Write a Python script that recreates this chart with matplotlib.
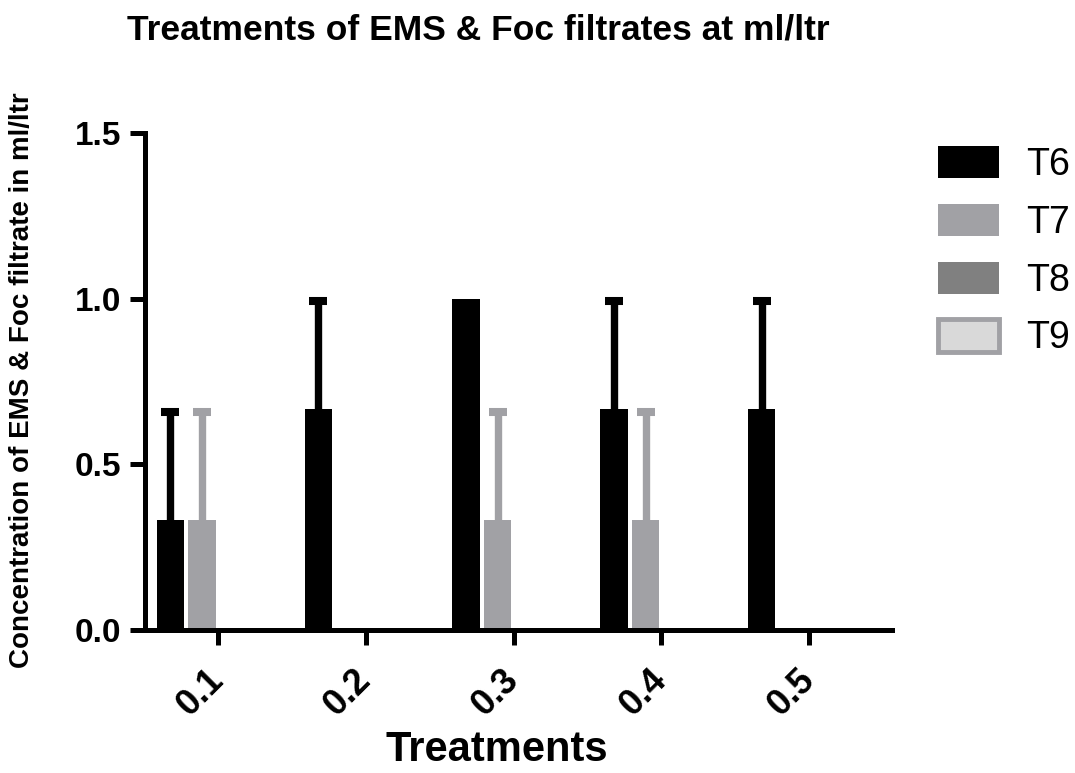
import numpy as np
import matplotlib
matplotlib.use("Agg")
import matplotlib.pyplot as plt
from matplotlib.patches import Patch

categories = ["0.1", "0.2", "0.3", "0.4", "0.5"]
series = ["T6", "T7", "T8", "T9"]
t6 = [0.333, 0.667, 1.0, 0.667, 0.667]
t6_err = [0.333, 0.333, 0.0, 0.333, 0.333]
t7 = [0.333, 0.0, 0.333, 0.333, 0.0]
t7_err = [0.333, 0.0, 0.333, 0.333, 0.0]
t8 = [0.0, 0.0, 0.0, 0.0, 0.0]
t8_err = [0.0, 0.0, 0.0, 0.0, 0.0]
t9 = [0.0, 0.0, 0.0, 0.0, 0.0]
t9_err = [0.0, 0.0, 0.0, 0.0, 0.0]

values = [t6, t7, t8, t9]
errors = [t6_err, t7_err, t8_err, t9_err]
faces = ["#000000", "#a1a1a5", "#808080", "#d9d9d9"]
edges = ["#000000", "#a1a1a5", "#808080", "#a1a1a5"]

plt.rcParams['font.family'] = ['Liberation Sans', 'DejaVu Sans']

fig = plt.figure(figsize=(10.75, 7.73), dpi=100)
ax = fig.add_axes([145/1075, 1-630/773, (892-145)/1075, (630-133)/773])

x = np.arange(len(categories))
slot = 0.2146
bw = 0.185
for i, (vals, errs) in enumerate(zip(values, errors)):
    pos = x + (i - 1.5) * slot
    ax.bar(pos, vals, width=bw, color=faces[i], edgecolor=edges[i], linewidth=0, zorder=2)
    v = np.array(vals); e = np.array(errs)
    m = e > 0
    if m.any():
        ax.vlines(pos[m], v[m], v[m] + e[m], colors=faces[i], linewidth=5.3, zorder=3)
        ax.plot(pos[m], v[m] + e[m] - 0.008, linestyle='none', marker='_', markersize=13,
                markeredgewidth=5.8, color=faces[i], zorder=3)

ax.set_xlim(-0.494, 4.56)
ax.set_ylim(0, 1.5)
ax.set_yticks([0.0, 0.5, 1.0, 1.5])
ax.set_yticklabels(["0.0", "0.5", "1.0", "1.5"])
ax.set_xticks(x)
ax.set_xticklabels(categories, rotation=45, ha='right', va='center', rotation_mode='anchor')
for s in ['top', 'right']:
    ax.spines[s].set_visible(False)
for s in ['left', 'bottom']:
    ax.spines[s].set_linewidth(3.6)
ax.tick_params(axis='both', width=3.6, length=11, labelsize=24, pad=6)
ax.tick_params(axis='x', pad=21, labelsize=26)
for lab in ax.get_xticklabels() + ax.get_yticklabels():
    lab.set_fontweight('bold')

ax.set_xlabel("Treatments", fontsize=30, fontweight='bold')
ax.xaxis.set_label_coords((497-145)/747, (630-730)/497)
ax.set_ylabel("Concentration of EMS & Foc filtrate in ml/ltr", fontsize=20, fontweight='bold')
ax.yaxis.set_label_coords((35-145)/747, (630-380)/497)

fig.text(478/1075, 1-30/773, "Treatments of EMS & Foc filtrates at ml/ltr", fontsize=25.5,
         fontweight='bold', ha='center', va='center')

handles = [Patch(facecolor=faces[i], edgecolor=edges[i], linewidth=3.5 if i == 3 else 0) for i in range(4)]
leg = fig.legend(handles, series, loc='upper left', bbox_to_anchor=(904/1075, 1-112/773),
                 frameon=False, fontsize=27, handlelength=1.63, handleheight=0.95,
                 labelspacing=0.555, handletextpad=0.72)

fig.savefig("out.png", dpi=100)
